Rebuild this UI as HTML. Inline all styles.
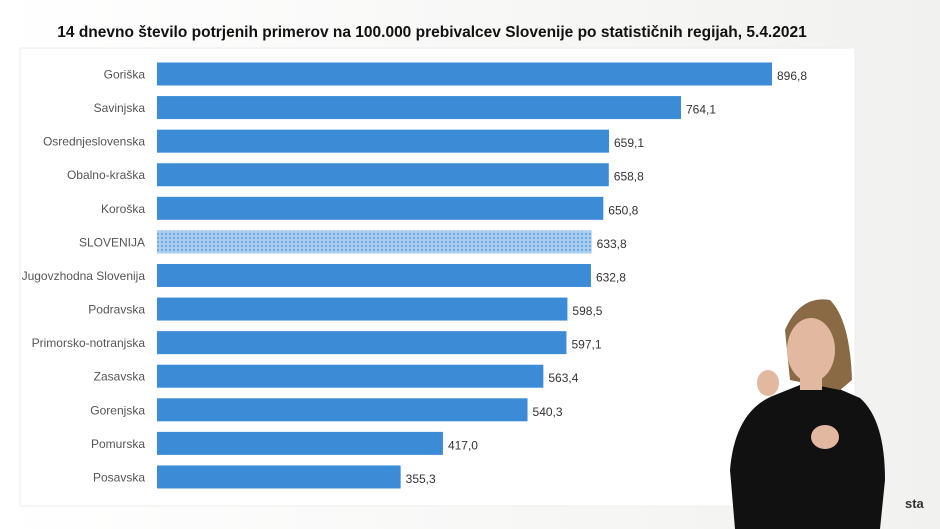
<!DOCTYPE html>
<html><head><meta charset="utf-8"><style>
html,body{margin:0;padding:0;width:940px;height:529px;overflow:hidden;background:#fafafa}
svg{display:block;font-family:"Liberation Sans",sans-serif}
</style></head><body>
<svg id="c" width="940" height="529">
<defs>
<linearGradient id="bg" x1="0" x2="1" y1="0" y2="0"><stop offset="0" stop-color="#ffffff"/><stop offset="1" stop-color="#f1f1ef"/></linearGradient>
<pattern id="dots" width="4" height="4" patternUnits="userSpaceOnUse"><rect width="4" height="4" fill="#a9cdee"/><circle cx="2" cy="2" r="1" fill="#5b9fdc"/></pattern>
</defs>
<rect width="940" height="529" fill="url(#bg)"/>
<rect x="20" y="48" width="835" height="458" fill="#ffffff" stroke="#eeeeee"/>
<text x="432" y="37" text-anchor="middle" font-size="15.5" font-weight="bold" fill="#111">14 dnevno število potrjenih primerov na 100.000 prebivalcev Slovenije po statističnih regijah, 5.4.2021</text>
<g id="bars"></g>
<g>
<path d="M735,529 L730,470 Q735,410 775,395 L800,385 L830,385 L860,398 Q885,420 885,480 L880,529 Z" fill="#111"/>
<path d="M785,330 Q800,295 830,300 Q850,320 852,380 L840,390 L790,380 Z" fill="#8a6a45"/>
<ellipse cx="811" cy="350" rx="24" ry="32" fill="#e3b8a0"/>
<rect x="800" y="375" width="22" height="15" fill="#e3b8a0"/>
<ellipse cx="768" cy="383" rx="11" ry="13" fill="#e3b8a0"/>
<ellipse cx="825" cy="437" rx="14" ry="12" fill="#e3b8a0"/>
<text x="905" y="508" font-size="13" font-weight="bold" fill="#333">sta</text>
</g>
</svg>
<script>
const categories=["Goriška","Savinjska","Osrednjeslovenska","Obalno-kraška","Koroška","SLOVENIJA","Jugovzhodna Slovenija","Podravska","Primorsko-notranjska","Zasavska","Gorenjska","Pomurska","Posavska"];
const values=[896.8,764.1,659.1,658.8,650.8,633.8,632.8,598.5,597.1,563.4,540.3,417.0,355.3];
const labels=["896,8","764,1","659,1","658,8","650,8","633,8","632,8","598,5","597,1","563,4","540,3","417,0","355,3"];
const NS="http://www.w3.org/2000/svg";
const x0=157,scale=615/896.8;
const xs=v=>x0+v*scale;
const ys=i=>74+i*33.58;
const g=document.getElementById('bars');
function mk(t,a){const e=document.createElementNS(NS,t);for(const k in a)e.setAttribute(k,a[k]);return e;}
categories.forEach((c,i)=>{
  const y=ys(i);
  const r=mk('rect',{x:x0,y:y-11.5,width:xs(values[i])-x0,height:23,fill:c==="SLOVENIJA"?"url(#dots)":"#3b8bd6"});
  
  
  g.appendChild(r);
  const l=mk('text',{x:145,y:y+4.5,'text-anchor':'end','font-size':12,fill:'#555'});
  l.textContent=c;
  
  
  g.appendChild(l);
  const v=mk('text',{x:xs(values[i])+5,y:y+6,'font-size':12,fill:'#333'});
  v.textContent=labels[i];
  
  
  g.appendChild(v);
});
</script>
</body></html>
